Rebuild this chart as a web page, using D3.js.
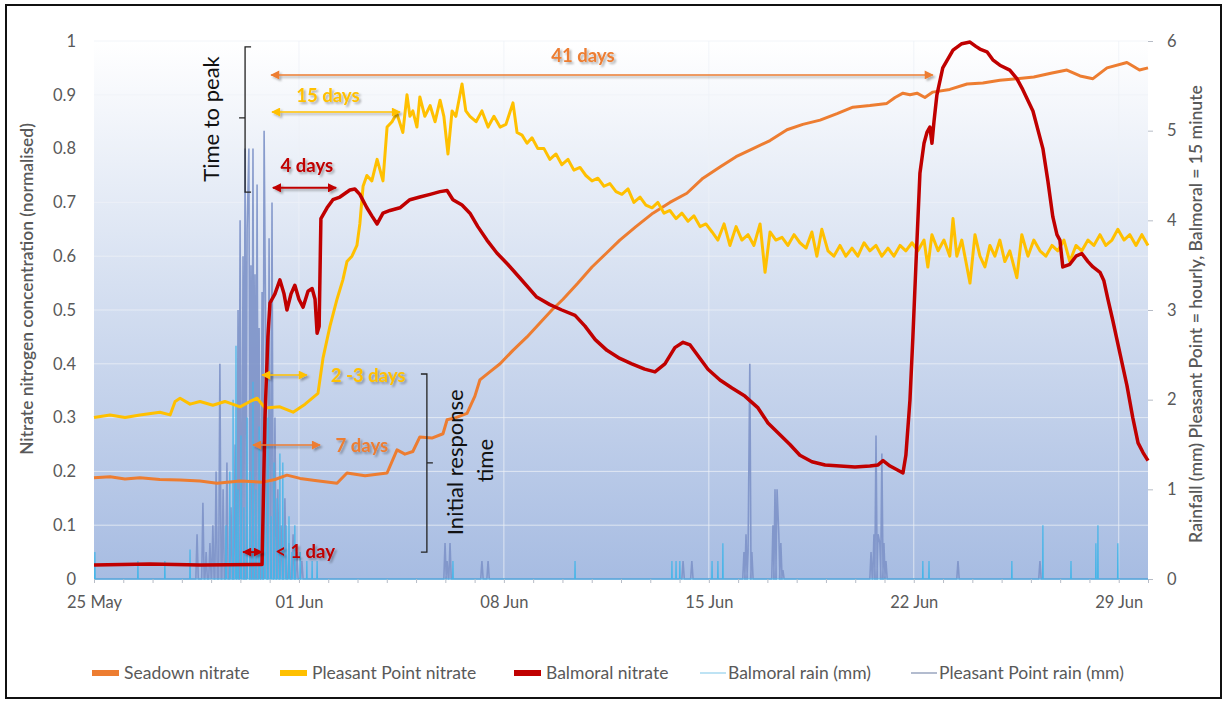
<!DOCTYPE html>
<html>
<head>
<meta charset="utf-8">
<script src="https://cdn.jsdelivr.net/npm/d3@7/dist/d3.min.js"></script>
<style>
  body { margin: 0; background: #fff; }
  text { font-family: Lato, "Open Sans", sans-serif; }
</style>
</head>
<body>
<svg id="chart" width="1226" height="704"></svg>
<script>
// days counted from 25 May 00:00
const xTickDays = [0, 7, 14, 21, 28, 35];
const xTickLabels = ["25 May", "01 Jun", "08 Jun", "15 Jun", "22 Jun", "29 Jun"];
const leftTicks = [0, 0.1, 0.2, 0.3, 0.4, 0.5, 0.6, 0.7, 0.8, 0.9, 1];
const rightTicks = [0, 1, 2, 3, 4, 5, 6];
const seriesNames = ["Seadown nitrate", "Pleasant Point nitrate", "Balmoral nitrate", "Balmoral rain (mm)", "Pleasant Point rain (mm)"];

// Seadown nitrate [day, normalised]
const seadown = [[0,0.188],[0.55,0.19],[1.06,0.186],[1.57,0.188],[2.25,0.185],[2.94,0.184],[3.62,0.182],[4.2,0.178],[4.99,0.182],[5.77,0.18],[6.18,0.185],[6.59,0.193],[7.04,0.187],[7.55,0.183],[8.3,0.178],[8.64,0.197],[9.26,0.192],[10.01,0.197],[10.35,0.24],[10.62,0.232],[10.89,0.237],[11.13,0.264],[11.54,0.262],[11.92,0.27],[12.06,0.296],[12.36,0.3],[12.74,0.308],[13.01,0.34],[13.18,0.37],[13.52,0.385],[13.87,0.4],[14.31,0.425],[14.79,0.45],[15.23,0.476],[15.64,0.5],[16.02,0.52],[16.53,0.55],[17.01,0.58],[17.49,0.605],[17.96,0.63],[18.51,0.655],[19.09,0.68],[19.67,0.7],[20.25,0.717],[20.8,0.745],[21.38,0.766],[21.93,0.785],[22.51,0.8],[23.09,0.815],[23.67,0.835],[24.21,0.845],[24.8,0.853],[25.38,0.865],[25.92,0.877],[26.5,0.88],[27.08,0.884],[27.36,0.895],[27.63,0.903],[27.87,0.9],[28.11,0.903],[28.38,0.895],[28.65,0.905],[29.23,0.91],[29.82,0.92],[30.36,0.922],[30.94,0.927],[31.52,0.93],[32.1,0.933],[32.68,0.94],[33.23,0.946],[33.68,0.935],[34.12,0.93],[34.6,0.95],[35.28,0.96],[35.71,0.946],[36,0.95]];

// Pleasant Point nitrate
const pleasantNitrate = [[0,0.3],[0.55,0.305],[1.06,0.3],[1.57,0.305],[2.25,0.31],[2.6,0.305],[2.77,0.33],[2.94,0.336],[3.28,0.325],[3.62,0.33],[4.06,0.323],[4.47,0.33],[4.99,0.32],[5.33,0.33],[5.57,0.336],[5.84,0.318],[6.35,0.32],[6.8,0.31],[7.21,0.325],[7.65,0.345],[7.82,0.41],[8.06,0.47],[8.3,0.52],[8.5,0.556],[8.64,0.59],[8.81,0.6],[8.98,0.62],[9.08,0.66],[9.19,0.73],[9.32,0.75],[9.49,0.74],[9.67,0.78],[9.77,0.76],[9.87,0.74],[10.01,0.84],[10.18,0.85],[10.34,0.866],[10.55,0.83],[10.69,0.9],[10.79,0.86],[10.89,0.87],[11.03,0.84],[11.13,0.896],[11.3,0.86],[11.48,0.88],[11.65,0.85],[11.82,0.89],[11.95,0.86],[12.09,0.79],[12.23,0.87],[12.36,0.86],[12.57,0.92],[12.7,0.87],[12.84,0.86],[13.05,0.85],[13.25,0.87],[13.46,0.84],[13.66,0.86],[13.87,0.84],[14.07,0.845],[14.31,0.885],[14.45,0.83],[14.62,0.825],[14.79,0.81],[14.96,0.82],[15.16,0.8],[15.37,0.8],[15.57,0.78],[15.78,0.79],[15.98,0.77],[16.19,0.78],[16.39,0.76],[16.6,0.765],[16.8,0.75],[17.01,0.74],[17.21,0.745],[17.42,0.73],[17.62,0.735],[17.83,0.72],[18.03,0.715],[18.24,0.725],[18.44,0.7],[18.65,0.71],[18.85,0.695],[19.06,0.69],[19.26,0.7],[19.47,0.68],[19.67,0.685],[19.88,0.67],[20.08,0.68],[20.29,0.665],[20.49,0.675],[20.7,0.655],[20.9,0.66],[21.11,0.645],[21.31,0.63],[21.52,0.66],[21.72,0.62],[21.93,0.655],[22.13,0.63],[22.34,0.64],[22.54,0.62],[22.75,0.66],[22.92,0.57],[23.09,0.645],[23.29,0.63],[23.5,0.635],[23.7,0.62],[23.91,0.64],[24.11,0.625],[24.32,0.615],[24.52,0.645],[24.69,0.6],[24.86,0.65],[25.07,0.61],[25.27,0.6],[25.48,0.62],[25.68,0.6],[25.89,0.615],[26.09,0.6],[26.3,0.625],[26.5,0.61],[26.71,0.62],[26.91,0.6],[27.12,0.615],[27.32,0.6],[27.53,0.62],[27.73,0.61],[27.94,0.625],[28.14,0.61],[28.35,0.63],[28.48,0.58],[28.62,0.64],[28.83,0.61],[29.03,0.63],[29.23,0.6],[29.34,0.67],[29.47,0.6],[29.64,0.63],[29.78,0.59],[29.92,0.55],[30.09,0.64],[30.26,0.6],[30.43,0.58],[30.6,0.62],[30.77,0.6],[30.94,0.63],[31.11,0.59],[31.28,0.61],[31.52,0.56],[31.69,0.64],[31.9,0.6],[32.1,0.63],[32.31,0.61],[32.51,0.6],[32.72,0.62],[32.92,0.61],[33.13,0.63],[33.33,0.59],[33.54,0.62],[33.74,0.61],[33.95,0.63],[34.15,0.62],[34.36,0.64],[34.56,0.62],[34.77,0.63],[34.97,0.65],[35.18,0.63],[35.38,0.64],[35.59,0.62],[35.79,0.64],[36,0.62]];

// Balmoral nitrate
const balmoralNitrate = [[0,0.026],[1.91,0.028],[3.62,0.026],[5.74,0.027],[5.84,0.3],[5.94,0.45],[6.01,0.513],[6.18,0.53],[6.35,0.556],[6.49,0.53],[6.59,0.5],[6.73,0.53],[6.86,0.546],[7.0,0.52],[7.14,0.505],[7.31,0.535],[7.45,0.54],[7.55,0.52],[7.62,0.457],[7.69,0.47],[7.75,0.67],[7.96,0.69],[8.16,0.705],[8.4,0.71],[8.74,0.723],[8.91,0.725],[9.08,0.715],[9.32,0.69],[9.49,0.675],[9.67,0.66],[9.87,0.68],[10.11,0.685],[10.45,0.69],[10.79,0.705],[11.13,0.71],[11.48,0.715],[11.82,0.72],[12.06,0.722],[12.26,0.705],[12.57,0.695],[12.84,0.68],[13.11,0.655],[13.42,0.63],[13.76,0.606],[14.13,0.585],[14.54,0.56],[15.12,0.524],[15.57,0.51],[15.98,0.5],[16.43,0.49],[16.77,0.47],[17.12,0.445],[17.52,0.425],[17.96,0.41],[18.37,0.4],[18.81,0.39],[19.16,0.385],[19.5,0.4],[19.84,0.43],[20.12,0.44],[20.36,0.435],[20.63,0.415],[20.97,0.39],[21.38,0.37],[21.79,0.355],[22.23,0.34],[22.68,0.318],[23.02,0.29],[23.43,0.268],[23.77,0.25],[24.11,0.23],[24.52,0.218],[24.97,0.212],[25.48,0.21],[25.99,0.208],[26.5,0.21],[26.78,0.212],[26.95,0.22],[27.19,0.21],[27.43,0.203],[27.63,0.197],[27.73,0.23],[27.87,0.333],[27.97,0.45],[28.07,0.58],[28.21,0.754],[28.35,0.81],[28.45,0.83],[28.55,0.84],[28.62,0.81],[28.69,0.85],[28.79,0.9],[28.99,0.95],[29.34,0.983],[29.64,0.995],[29.92,0.998],[30.12,0.99],[30.26,0.985],[30.5,0.98],[30.7,0.965],[30.94,0.955],[31.28,0.946],[31.52,0.93],[31.72,0.91],[32.07,0.87],[32.41,0.8],[32.58,0.74],[32.75,0.673],[32.89,0.64],[32.99,0.63],[33.09,0.58],[33.33,0.585],[33.54,0.6],[33.74,0.605],[33.95,0.59],[34.12,0.58],[34.36,0.57],[34.49,0.555],[34.63,0.52],[34.8,0.48],[35.04,0.42],[35.28,0.36],[35.48,0.3],[35.66,0.253],[35.83,0.235],[36,0.22]];

// rain, non-zero readings only [day, mm]
const balmoralRain = [[0.03,0.3],[1.5,0.2],[2.42,0.2],[3.28,0.33],[4.51,0.6],[4.64,1.2],[4.75,2.0],[4.85,2.6],[4.92,1.0],[5.02,1.6],[5.12,0.8],[5.23,1.8],[5.33,1.2],[5.43,2.2],[5.53,1.0],[5.64,1.7],[5.74,0.8],[5.84,1.5],[5.94,1.8],[6.05,0.7],[6.15,1.3],[6.25,0.9],[6.35,1.4],[6.45,1.3],[6.56,0.6],[6.66,0.7],[6.76,0.3],[6.86,0.6],[7.04,0.3],[7.27,0.2],[7.45,0.2],[7.62,0.2],[12.26,0.2],[16.43,0.2],[19.74,0.2],[19.88,0.2],[20.01,0.2],[21.11,0.2],[21.31,0.2],[21.48,0.4],[28.31,0.2],[28.52,0.2],[31.35,0.2],[32.41,0.6],[33.37,0.2],[34.22,0.4],[34.29,0.6],[34.97,0.4]];

const pleasantRain = [[3.52,0.5],[3.72,0.85],[3.83,0.3],[3.96,0.4],[4.06,0.6],[4.17,1.2],[4.3,2.4],[4.41,1.0],[4.54,1.3],[4.68,0.8],[4.82,1.5],[4.92,3.0],[4.99,4.0],[5.09,3.6],[5.16,4.8],[5.23,3.9],[5.29,4.8],[5.36,3.5],[5.43,4.8],[5.5,3.4],[5.57,4.4],[5.64,2.8],[5.74,3.2],[5.81,5.0],[5.87,2.5],[5.98,3.8],[6.08,4.2],[6.18,1.8],[6.28,1.0],[6.39,0.6],[6.52,0.9],[6.66,0.4],[6.8,0.5],[6.93,0.3],[7.1,0.2],[11.99,0.4],[12.06,0.2],[12.16,0.4],[13.25,0.2],[13.46,0.2],[20.12,0.2],[20.42,0.2],[22.2,0.3],[22.27,0.5],[22.34,0.3],[22.4,2.4],[22.47,0.3],[23.19,0.6],[23.26,1.0],[23.33,1.0],[23.39,0.5],[23.46,0.4],[23.53,0.1],[26.54,0.3],[26.64,0.5],[26.71,1.6],[26.78,0.5],[26.84,0.4],[26.91,1.4],[26.98,0.4],[27.05,0.2],[29.51,0.2],[32.31,0.2]];

const colors = { seadown: "#ed7d31", pleasant: "#ffc000", balmoral: "#c00000", bRain: "#45b5e8", pRain: "#7d92c8" };

const svg = d3.select("#chart");
const W = 1226, H = 704;
const x = d3.scaleLinear().domain([0, 36]).range([94, 1148]);
const yL = d3.scaleLinear().domain([0, 1]).range([579, 41]);
const yR = d3.scaleLinear().domain([0, 6]).range([579, 41]);

const defs = svg.append("defs");
const grad = defs.append("linearGradient").attr("id", "bg").attr("x1", 0).attr("y1", 0).attr("x2", 0).attr("y2", 1);
grad.append("stop").attr("offset", "0%").attr("stop-color", "#ffffff");
grad.append("stop").attr("offset", "45%").attr("stop-color", "#d6e0f1");
grad.append("stop").attr("offset", "100%").attr("stop-color", "#a7bce2");

const shadow = defs.append("filter").attr("id", "shadow").attr("x", "-20%").attr("y", "-50%").attr("width", "140%").attr("height", "200%");
shadow.append("feDropShadow").attr("dx", 2).attr("dy", 2).attr("stdDeviation", 1.2)
  .attr("flood-color", "#000").attr("flood-opacity", 0.3);

["seadown", "pleasant", "balmoral"].forEach(k => {
  defs.append("marker").attr("id", "arr-" + k)
    .attr("viewBox", "0 0 10 10").attr("refX", 9).attr("refY", 5)
    .attr("markerUnits", "userSpaceOnUse").attr("markerWidth", 10).attr("markerHeight", 9)
    .attr("orient", "auto-start-reverse")
    .append("path").attr("d", "M0,0 L10,5 L0,10 z").attr("fill", colors[k]);
});

svg.append("rect").attr("width", W).attr("height", H).attr("fill", "#fff");
svg.append("rect").attr("x", 6).attr("y", 5).attr("width", 1215).attr("height", 693)
  .attr("fill", "none").attr("stroke", "#111").attr("stroke-width", 2);

// plot area
svg.append("rect").attr("x", x(0)).attr("y", yL(1)).attr("width", x(36) - x(0)).attr("height", yL(0) - yL(1))
  .attr("fill", "url(#bg)");

// gridlines
svg.append("g").selectAll("line").data(leftTicks.slice(1)).join("line")
  .attr("x1", x(0)).attr("x2", x(36)).attr("y1", d => yL(d)).attr("y2", d => yL(d))
  .attr("stroke", "#eef1f7").attr("stroke-opacity", 0.75).attr("stroke-width", 1);
svg.append("g").selectAll("line").data(xTickDays.slice(1)).join("line")
  .attr("x1", d => x(d)).attr("x2", d => x(d)).attr("y1", yL(1)).attr("y2", yL(0))
  .attr("stroke", "#eef1f7").attr("stroke-opacity", 0.75).attr("stroke-width", 1);

// rain series: fill the zero readings around each reading
function withZeros(events, step) {
  const pts = [[0, 0]];
  events.forEach((e, i) => {
    const prev = events[i - 1], next = events[i + 1];
    if (!prev || e[0] - prev[0] > step * 1.5) pts.push([e[0] - step, 0]);
    pts.push(e);
    if (!next || next[0] - e[0] > step * 1.5) pts.push([e[0] + step, 0]);
  });
  pts.push([36, 0]);
  return pts;
}
const rainLine = d3.line().x(d => x(d[0])).y(d => yR(d[1]));
svg.append("path").datum(withZeros(pleasantRain, 1 / 24)).attr("d", rainLine)
  .attr("fill", "none").attr("stroke", colors.pRain).attr("stroke-width", 1.6).attr("stroke-opacity", 0.9);
svg.append("path").datum(withZeros(balmoralRain, 1 / 96)).attr("d", rainLine)
  .attr("fill", "none").attr("stroke", colors.bRain).attr("stroke-width", 1.2);

// day ticks under axis
svg.append("g").attr("transform", `translate(0,${yL(0)})`)
  .call(d3.axisBottom(x).tickValues(d3.range(0, 37, 1)).tickSize(4).tickFormat(""))
  .call(g => g.select(".domain").remove())
  .call(g => g.selectAll(".tick line").attr("stroke", "#b7bcc6"));

// x labels
svg.append("g").attr("transform", `translate(0,${yL(0)})`)
  .call(d3.axisBottom(x).tickValues(xTickDays).tickSize(0).tickPadding(17).tickFormat((d, i) => xTickLabels[i]))
  .call(g => g.select(".domain").remove())
  .call(g => g.selectAll("text").attr("fill", "#595959").attr("font-size", 16.5).attr("font-family", "Lato"));

// left axis
svg.append("g").attr("transform", `translate(${x(0) - 18},0)`)
  .call(d3.axisLeft(yL).tickValues(leftTicks).tickSize(0).tickPadding(0).tickFormat(d => d3.format("~g")(d)))
  .call(g => g.select(".domain").remove())
  .call(g => g.selectAll("text").attr("fill", "#595959").attr("font-size", 16.5).attr("font-family", "Lato"));

// right axis
svg.append("g").attr("transform", `translate(${x(36)},0)`)
  .call(d3.axisRight(yR).tickValues(rightTicks).tickSize(5).tickPadding(14).tickFormat(d3.format("d")))
  .call(g => g.select(".domain").remove())
  .call(g => g.selectAll(".tick line").attr("stroke", "#b7bcc6"))
  .call(g => g.selectAll("text").attr("fill", "#595959").attr("font-size", 16.5).attr("font-family", "Lato"));

// axis titles, sized to the span they take in the original
function fitText(sel, target) {
  const len = sel.node().getComputedTextLength();
  const fs = +sel.attr("font-size");
  sel.attr("font-size", (fs * target / len).toFixed(2));
}
svg.append("text").attr("transform", `translate(33,289) rotate(-90)`).attr("text-anchor", "middle")
  .attr("fill", "#595959").attr("font-size", 16).attr("font-weight", 600)
  .text("Nitrate nitrogen concentration (normalised)").call(fitText, 332);
svg.append("text").attr("transform", `translate(1202,314) rotate(-90)`).attr("text-anchor", "middle")
  .attr("fill", "#595959").attr("font-size", 16).attr("font-weight", 600)
  .text("Rainfall (mm) Pleasant Point = hourly, Balmoral = 15 minute").call(fitText, 458);

// nitrate lines
const nLine = d3.line().x(d => x(d[0])).y(d => yL(d[1]));
svg.append("path").datum(seadown).attr("d", nLine).attr("fill", "none")
  .attr("stroke", colors.seadown).attr("stroke-width", 3).attr("stroke-linejoin", "round");
svg.append("path").datum(pleasantNitrate).attr("d", nLine).attr("fill", "none")
  .attr("stroke", colors.pleasant).attr("stroke-width", 3).attr("stroke-linejoin", "round");
svg.append("path").datum(balmoralNitrate).attr("d", nLine).attr("fill", "none")
  .attr("stroke", colors.balmoral).attr("stroke-width", 3.5).attr("stroke-linejoin", "round");

// annotations (positions in data units)
const spans = [
  { from: 6.05, to: 28.65, y: 0.937, label: "41 days", lx: 16.7, ly: 0.961, c: "seadown" },
  { from: 6.08, to: 10.45, y: 0.868, label: "15 days", lx: 7.99, ly: 0.887, c: "pleasant" },
  { from: 6.11, to: 8.27, y: 0.727, label: "4 days", lx: 7.27, ly: 0.757, c: "balmoral" },
  { from: 5.74, to: 7.27, y: 0.379, label: "2 -3 days", lx: 9.36, ly: 0.366, c: "pleasant" },
  { from: 5.43, to: 7.72, y: 0.249, label: "7 days", lx: 9.15, ly: 0.236, c: "seadown" },
  { from: 5.09, to: 5.74, y: 0.05, label: "< 1 day", lx: 7.21, ly: 0.039, c: "balmoral" }
];
const ann = svg.append("g").attr("filter", "url(#shadow)");
ann.selectAll("line").data(spans).join("line")
  .attr("x1", d => x(d.from)).attr("x2", d => x(d.to)).attr("y1", d => yL(d.y)).attr("y2", d => yL(d.y))
  .attr("stroke", d => colors[d.c]).attr("stroke-width", d => d.c === "balmoral" ? 2 : 1.5)
  .attr("marker-start", d => `url(#arr-${d.c})`).attr("marker-end", d => `url(#arr-${d.c})`);
ann.selectAll("text").data(spans).join("text")
  .attr("x", d => x(d.lx)).attr("y", d => yL(d.ly)).attr("text-anchor", "middle")
  .attr("font-size", 18.5).attr("font-weight", 700).attr("fill", d => colors[d.c])
  .text(d => d.label);

// brackets
const brackets = [
  { xd: 5.16, top: 0.989, bottom: 0.719, mid: 0.857, dir: 1 },
  { xd: 11.37, top: 0.381, bottom: 0.05, mid: 0.216, dir: -1 }
];
svg.append("g").selectAll("path").data(brackets).join("path")
  .attr("d", d => {
    const bx = x(d.xd), e = 6 * d.dir;
    return `M${bx + e},${yL(d.top)} H${bx} V${yL(d.bottom)} H${bx + e} M${bx},${yL(d.mid)} H${bx - e}`;
  })
  .attr("fill", "none").attr("stroke", "#222").attr("stroke-width", 1.3);

const bracketText = [
  { xd: 4.27, yv: 0.855, t: "Time to peak" },
  { xd: 12.6, yv: 0.217, t: "Initial response" },
  { xd: 13.63, yv: 0.22, t: "time" }
];
svg.append("g").selectAll("text").data(bracketText).join("text")
  .attr("transform", d => `translate(${x(d.xd)},${yL(d.yv)}) rotate(-90)`)
  .attr("text-anchor", "middle").attr("font-size", 22).attr("fill", "#111")
  .text(d => d.t);

// legend
const legendX = [92, 280, 514, 700, 911];
const legendKeys = ["seadown", "pleasant", "balmoral", "bRain", "pRain"];
const lg = svg.append("g").selectAll("g").data(seriesNames).join("g")
  .attr("transform", (d, i) => `translate(${legendX[i]},673)`);
lg.each(function(d, i) {
  const g = d3.select(this);
  if (i < 3) {
    g.append("rect").attr("x", 0).attr("y", -3).attr("width", 27).attr("height", 6).attr("fill", colors[legendKeys[i]]);
  } else {
    g.append("line").attr("x1", 0).attr("x2", 26).attr("y1", 0).attr("y2", 0)
      .attr("stroke", i === 3 ? "#a8daf0" : "#9aa6bf").attr("stroke-width", 1.5);
  }
  g.append("text").attr("x", i < 3 ? 32 : 28).attr("y", 6)
    .attr("font-size", 17.5).attr("fill", "#595959").text(d);
});
</script>
</body>
</html>
